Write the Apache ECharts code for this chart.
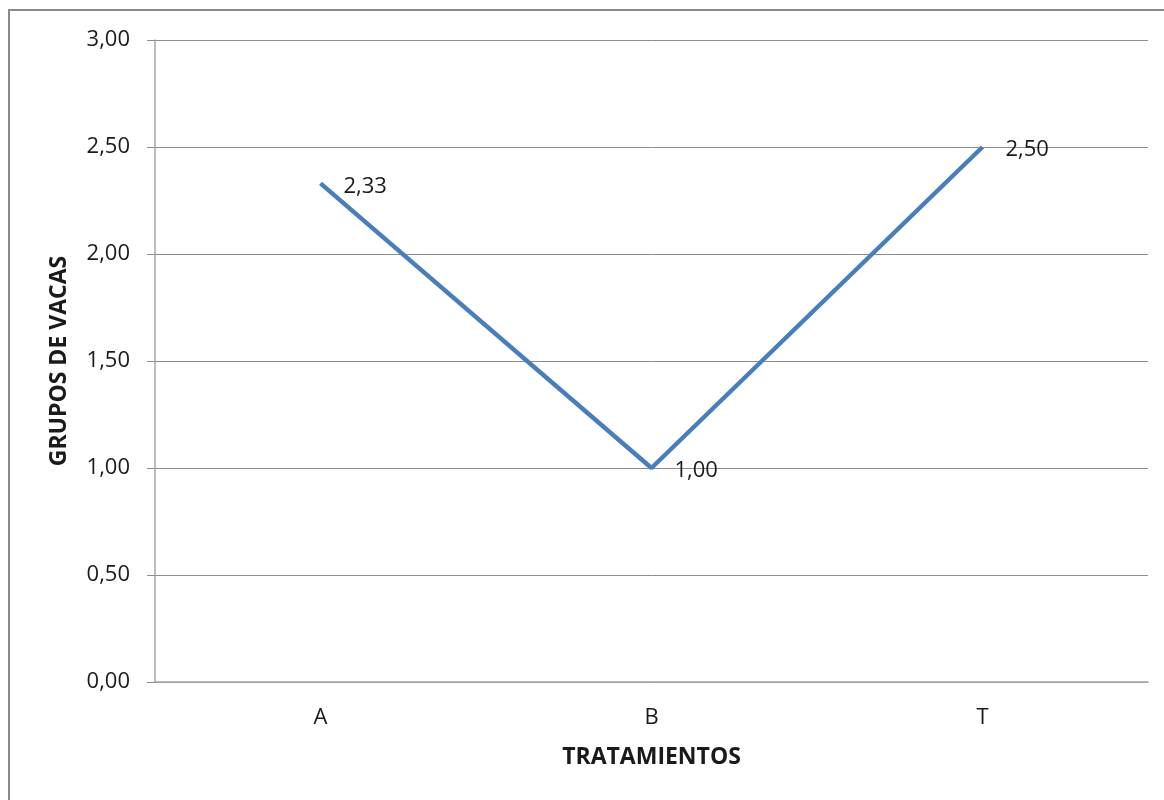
<!DOCTYPE html>
<html>
<head>
<meta charset="utf-8">
<script src="https://cdn.jsdelivr.net/npm/echarts@6/dist/echarts.min.js"></script>
<style>
    html, body { margin: 0; padding: 0; background: #fff; }
    #chart { width: 1164px; height: 800px; }
</style>
</head>
<body>
<div id="chart"></div>
<script>
    // datos
    const categorias = ['A', 'B', 'T'];
    const grupos = [2.33, 1.00, 2.50];

    const fmt = (v) => Number(v).toFixed(2).replace('.', ',');
    const fuente = 'Open Sans';

    const chart = echarts.init(document.getElementById('chart'));

    const option = {
        animation: false,
        textStyle: { fontFamily: fuente },
        graphic: [{
            type: 'rect',
            shape: { x: 9, y: 10, width: 1300, height: 900 },
            style: { fill: 'none', stroke: '#8a8a8a', lineWidth: 2 },
            silent: true
        }],
        grid: {
            left: 155,
            top: 40,
            width: 993,
            height: 642
        },
        xAxis: {
            type: 'category',
            data: categorias,
            boundaryGap: true,
            name: 'TRATAMIENTOS',
            nameLocation: 'middle',
            nameGap: 64,
            nameTextStyle: { color: '#1a1a1a', fontSize: 23, fontWeight: 'bold', fontFamily: fuente },
            axisLine: { show: true, lineStyle: { color: '#a6a6a6', width: 1.5 } },
            axisTick: { show: false },
            axisLabel: { color: '#1a1a1a', fontSize: 22, margin: 25, fontFamily: fuente }
        },
        yAxis: {
            type: 'value',
            min: 0,
            max: 3,
            interval: 0.5,
            name: 'GRUPOS DE VACAS',
            nameLocation: 'middle',
            nameGap: 84,
            nameTextStyle: { color: '#1a1a1a', fontSize: 23, fontWeight: 'bold', fontFamily: fuente },
            axisLine: { show: true, lineStyle: { color: '#a6a6a6', width: 1.5 } },
            axisTick: { show: true, length: 8, lineStyle: { color: '#8c8c8c' } },
            axisLabel: { color: '#1a1a1a', fontSize: 22, margin: 25, formatter: fmt, fontFamily: fuente },
            splitLine: { show: true, lineStyle: { color: '#8c8c8c', width: 1 } }
        },
        series: [{
            type: 'line',
            data: grupos,
            symbol: 'circle',
            symbolSize: 2,
            showSymbol: true,
            itemStyle: { color: 'rgba(0,0,0,0)', borderWidth: 0 },
            lineStyle: { color: '#4a7ebb', width: 4.5 },
            label: {
                show: true,
                position: 'right',
                distance: 22,
                offset: [0, 3],
                color: '#1a1a1a',
                fontSize: 22,
                fontFamily: fuente,
                formatter: (p) => fmt(p.value)
            }
        }]
    };

    chart.setOption(option);
</script>
</body>
</html>
